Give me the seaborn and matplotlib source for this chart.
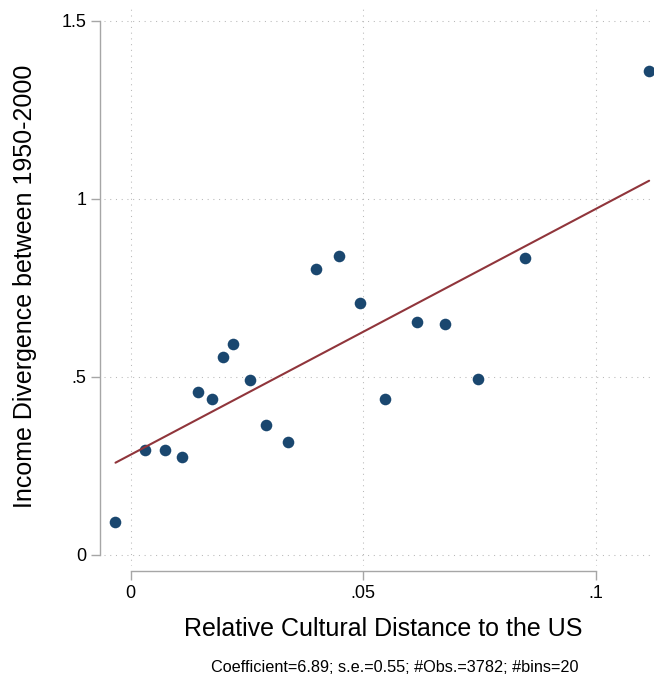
import matplotlib
matplotlib.use('Agg')
import matplotlib.pyplot as plt
import seaborn as sns

# bin means of the binscatter (20 bins)
bin_x = [-0.00325, 0.00310, 0.00735, 0.01114, 0.01447, 0.01748, 0.01981, 0.02204, 0.02576, 0.02916,
         0.03381, 0.03985, 0.04480, 0.04920, 0.05462, 0.06157, 0.06753, 0.07465, 0.08486, 0.11146]
bin_y = [0.0918, 0.2939, 0.2948, 0.2760, 0.4585, 0.4380, 0.5550, 0.5915, 0.4913, 0.3641,
         0.3172, 0.8038, 0.8394, 0.7075, 0.4371, 0.6541, 0.6485, 0.4949, 0.8338, 1.3596]
# linear fit (slope ~6.89), ends of the drawn line
fit_x = [-0.00325, 0.11146]
fit_y = [0.2591, 1.0508]

xticks = [0, 0.05, 0.1]
xtick_labels = ['0', '.05', '.1']
yticks = [0, 0.5, 1, 1.5]
ytick_labels = ['0', '.5', '1', '1.5']

x_title = 'Relative Cultural Distance to the US'
y_title = 'Income Divergence between 1950-2000'
note = 'Coefficient=6.89; s.e.=0.55; #Obs.=3782; #bins=20'

sns.set_style('white')
plt.rcParams['font.family'] = ['Liberation Sans', 'DejaVu Sans']
plt.rcParams['text.color'] = 'black'

W, H = 654, 674
fig = plt.figure(figsize=(W / 100, H / 100), dpi=100)
ax = fig.add_axes([104 / W, (H - 566) / H, (W - 104) / W, (566 - 5.5) / H])

sns.scatterplot(x=bin_x, y=bin_y, color='#1a476f', s=70, linewidth=0, ax=ax, zorder=3)
sns.lineplot(x=fit_x, y=fit_y, color='#90353b', linewidth=1.5, ax=ax, zorder=4)

ax.set_xlim(-0.00572, 0.1125)
ax.set_ylim(-0.0309, 1.5427)
ax.set_xticks(xticks, xtick_labels)
ax.set_yticks(yticks, ytick_labels)
ax.grid(True, color='#b8b8b8', linestyle=(0, (1, 4.5)), linewidth=0.75)
ax.set_axisbelow(True)

# stata-like detached axes
spine_col = '#a6a6a6'
for s in ['top', 'right']:
    ax.spines[s].set_visible(False)
ax.spines['left'].set_position(('outward', 2.9))
ax.spines['bottom'].set_position(('outward', 3.6))
ax.spines['left'].set_bounds(0, 1.5)
ax.spines['bottom'].set_bounds(0, 0.1)
for s in ['left', 'bottom']:
    ax.spines[s].set_color(spine_col)
    ax.spines[s].set_linewidth(1.0)
ax.tick_params(axis='both', bottom=True, left=True, direction='out', length=6.2, width=1,
               color=spine_col, labelsize=13, labelcolor='black')
ax.tick_params(axis='x', pad=4)
ax.tick_params(axis='y', pad=3.6)
ax.set_xlabel('')
ax.set_ylabel('')

fig.text(383.3 / W, 1 - 636 / H, x_title, fontsize=18, color='black', ha='center', va='baseline')
fig.text(31.7 / W, 1 - 286 / H, y_title, fontsize=18, color='black', ha='center', va='baseline',
         rotation=90, rotation_mode='anchor')
fig.text(395 / W, 1 - 671.7 / H, note, fontsize=11.7, color='black', ha='center', va='baseline')

fig.savefig('out.png', dpi=100)
